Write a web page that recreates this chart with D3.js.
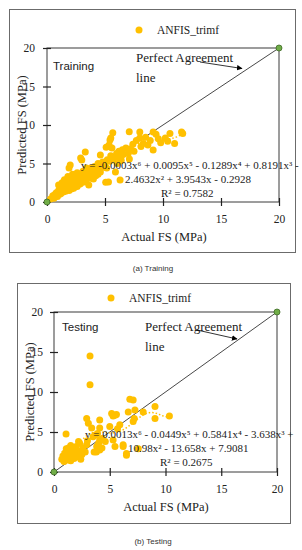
<!DOCTYPE html>
<html>
<head>
<meta charset="utf-8">
<script src="https://cdn.jsdelivr.net/npm/d3@7"></script>
<style>
  body { margin: 0; background: #fff; }
  svg { display: block; }
</style>
</head>
<body>
<svg id="chart" width="302" height="550"></svg>
<script>
// Training: actual FS vs predicted FS (MPa)
var trainActual = [0.3, 0.5, 0.6, 0.8, 0.9, 1.0, 1.0, 1.1, 1.2, 1.3, 1.4, 1.5, 1.5, 1.6, 1.7, 1.8, 1.8, 1.9,
  2.0, 2.0, 2.1, 2.2, 2.2, 2.3, 2.4, 2.5, 2.5, 2.6, 2.7, 2.8, 2.9, 3.0, 3.0, 3.1, 3.2, 3.3, 3.3, 3.4,
  3.5, 3.5, 3.6, 3.6, 3.7, 3.8, 3.9, 4.0, 4.1, 4.2, 4.3, 4.4, 4.5, 4.6, 4.6, 4.7, 4.8, 4.9, 5.0, 5.15,
  5.2, 5.3, 5.3, 5.4, 5.43, 5.5, 5.6, 5.67, 5.7, 5.9, 6.0, 6.0, 6.06, 6.2, 6.3, 6.4, 6.4, 6.5, 6.6, 6.8,
  7.0, 7.09, 7.1, 7.2, 7.4, 7.5, 7.7, 8.0, 8.0, 8.1, 8.3, 8.5, 8.7, 8.9, 9.15, 9.15, 9.4, 9.6, 9.8,
  10.2, 10.4, 10.6, 11.0, 11.6, 11.7, 1.2, 1.6, 2.1, 2.6, 2.9, 3.2, 3.8, 4.2, 0.7, 1.9, 2.4, 2.8, 1.4,
  3.4, 4.0, 4.4, 5.06, 5.1, 2.9, 1.9, 5.35, 5.5];
var trainPred = [0.4, 0.8, 0.5, 1.2, 0.7, 1.5, 2.2, 1.0, 1.8, 2.5, 1.3, 2.0, 2.9, 1.6, 2.3, 3.3, 1.9, 2.7,
  2.1, 4.8, 3.0, 2.4, 3.6, 1.8, 2.8, 3.2, 2.2, 3.8, 2.6, 3.0, 3.5, 2.8, 5.45, 4.0, 3.2, 6.5, 3.6, 2.9,
  4.2, 3.3, 2.2, 3.4, 3.8, 4.4, 3.5, 4.0, 4.6, 3.7, 4.2, 5.0, 4.4, 6.1, 3.9, 4.7, 5.2, 4.5, 5.0, 4.4,
  5.5, 7.2, 2.6, 5.3, 8.05, 6.0, 7.0, 9.0, 5.6, 3.9, 6.3, 5.8, 5.0, 6.6, 2.85, 5.9, 5.4, 6.8, 6.2, 7.0,
  6.3, 9.13, 5.6, 6.9, 7.5, 6.6, 8.0, 9.1, 8.3, 7.2, 7.6, 8.4, 7.4, 8.0, 9.1, 6.75, 8.8, 8.2, 7.7,
  8.3, 7.9, 8.9, 7.6, 9.1, 8.9, 1.1, 1.4, 1.7, 2.0, 2.4, 2.6, 3.1, 3.4, 1.0, 1.5, 2.0, 2.3, 1.8,
  4.4, 3.0, 3.6, 2.55, 7.1, 5.7, 4.4, 7.4, 8.3];

// Testing: actual FS vs predicted FS (MPa)
var testActual = [0.7, 0.8, 0.9, 1.0, 1.0, 1.08, 1.1, 1.2, 1.2, 1.3, 1.4, 1.4, 1.5, 1.5, 1.6, 1.7, 1.8, 1.9,
  2.0, 2.1, 2.2, 2.3, 2.4, 2.5, 2.6, 2.8, 2.93, 2.93, 3.0, 3.08, 3.23, 3.23, 3.38, 3.5, 3.6, 3.83, 3.9,
  4.1, 4.1, 4.1, 4.1, 4.3, 4.6, 5.0, 5.17, 5.3, 5.3, 5.47, 5.47, 5.6, 5.7, 5.9, 6.2, 6.2, 6.5, 6.5,
  6.66, 6.8, 7.1, 7.1, 7.2, 7.26, 7.56, 8.0, 9.06, 9.06, 10.35, 3.68, 4.3, 4.0, 3.8, 2.2];
var testPred = [1.6, 2.0, 1.3, 2.4, 1.8, 4.75, 2.9, 1.5, 2.2, 3.0, 1.9, 2.6, 1.4, 3.3, 2.1, 2.8, 1.7, 2.4,
  3.2, 1.9, 2.6, 3.6, 1.6, 2.2, 3.0, 2.5, 3.4, 6.7, 3.9, 6.1, 14.5, 10.9, 5.5, 4.4, 2.5, 3.2, 4.8,
  6.5, 5.5, 4.0, 2.75, 3.0, 3.8, 5.7, 7.3, 4.0, 7.0, 7.1, 3.2, 7.2, 5.4, 5.9, 3.4, 3.2, 2.3, 2.1,
  7.5, 9.1, 9.0, 6.3, 6.7, 7.75, 2.9, 7.5, 8.2, 6.7, 7.0, 4.6, 4.2, 3.6, 2.5, 3.8];

var axisTicks = [0, 5, 10, 15, 20];
var seriesName = 'ANFIS_trimf';
var trainEquation = ['y = -0.0003x\u2076 + 0.0095x\u2075 - 0.1289x\u2074 + 0.8191x\u00b3 -',
  '2.4632x\u00b2 + 3.9543x - 0.2928', 'R\u00b2 = 0.7582'];
var testEquation = ['y = 0.0013x\u2076 - 0.0449x\u2075 + 0.5841x\u2074 - 3.638x\u00b3 +',
  '10.98x\u00b2 - 13.658x + 7.9081', 'R\u00b2 = 0.2675'];

var gold = '#FFC000';
var serif = '"Liberation Serif", "Times New Roman", serif';
var sans = '"Liberation Sans", Arial, sans-serif';

var svg = d3.select('#chart');

svg.append('defs').append('marker')
    .attr('id', 'arrow')
    .attr('viewBox', '0 0 10 10')
    .attr('refX', 9).attr('refY', 5)
    .attr('markerWidth', 7).attr('markerHeight', 7)
    .attr('orient', 'auto')
    .append('path')
    .attr('d', 'M0,0 L10,5 L0,10 z')
    .attr('fill', '#000');

// least squares polynomial (like an Excel trendline), x scaled for stability
function polyFit(xs, ys, degree) {
    var lo = d3.min(xs), hi = d3.max(xs);
    var mid = (lo + hi) / 2, half = (hi - lo) / 2;
    var n = degree + 1;
    var A = [], b = [];
    for (var i = 0; i < n; i++) { A.push(new Array(n).fill(0)); b.push(0); }
    xs.forEach(function(x, k) {
        var u = (x - mid) / half;
        var pw = [];
        for (var i = 0; i < 2 * n; i++) pw.push(Math.pow(u, i));
        for (var r = 0; r < n; r++) {
            for (var c = 0; c < n; c++) A[r][c] += pw[r + c];
            b[r] += pw[r] * ys[k];
        }
    });
    for (var col = 0; col < n; col++) {
        var piv = col;
        for (var r = col + 1; r < n; r++) if (Math.abs(A[r][col]) > Math.abs(A[piv][col])) piv = r;
        var t = A[col]; A[col] = A[piv]; A[piv] = t;
        var tb = b[col]; b[col] = b[piv]; b[piv] = tb;
        for (var r = col + 1; r < n; r++) {
            var f = A[r][col] / A[col][col];
            for (var c = col; c < n; c++) A[r][c] -= f * A[col][c];
            b[r] -= f * b[col];
        }
    }
    var coef = new Array(n).fill(0);
    for (var r = n - 1; r >= 0; r--) {
        var s = b[r];
        for (var c = r + 1; c < n; c++) s -= A[r][c] * coef[c];
        coef[r] = s / A[r][r];
    }
    return function(x) {
        var u = (x - mid) / half, y = 0;
        for (var i = n - 1; i >= 0; i--) y = y * u + coef[i];
        return y;
    };
}

function drawPanel(cfg) {
    var g = svg.append('g');

    // outer frame
    g.append('rect')
        .attr('x', cfg.frame[0] + 0.5).attr('y', cfg.frame[1] + 0.5)
        .attr('width', cfg.frame[2] - cfg.frame[0]).attr('height', cfg.frame[3] - cfg.frame[1])
        .attr('fill', 'none').attr('stroke', '#6b6b6b').attr('stroke-width', 1);

    var x = d3.scaleLinear().domain([0, 20]).range([cfg.plot.l, cfg.plot.r]);
    var y = d3.scaleLinear().domain([0, 20]).range([cfg.plot.b, cfg.plot.t]);

    // plot area box
    g.append('rect')
        .attr('x', cfg.plot.l).attr('y', cfg.plot.t)
        .attr('width', cfg.plot.r - cfg.plot.l).attr('height', cfg.plot.b - cfg.plot.t)
        .attr('fill', 'none').attr('stroke', '#3a3a3a').attr('stroke-width', 1);

    var xAxis = d3.axisBottom(x).tickValues(axisTicks).tickSizeInner(4).tickSizeOuter(0).tickPadding(9);
    var yAxis = d3.axisLeft(y).tickValues(axisTicks).tickSizeInner(4).tickSizeOuter(0).tickPadding(cfg.yPad);

    var xg = g.append('g').attr('transform', 'translate(0,' + cfg.plot.b + ')').call(xAxis);
    var yg = g.append('g').attr('transform', 'translate(' + cfg.plot.l + ',0)').call(yAxis);
    [xg, yg].forEach(function(ax) {
        ax.select('.domain').remove();
        ax.selectAll('.tick line').attr('stroke', '#222').attr('stroke-width', 1.2);
        ax.selectAll('.tick text').attr('fill', '#222')
            .style('font-family', serif).style('font-size', '11.5px');
    });
    xg.selectAll('.tick line').attr('y1', -4);
    yg.selectAll('.tick line').attr('x1', 4).attr('x2', -4);

    // perfect agreement line
    g.append('line')
        .attr('x1', x(0)).attr('y1', y(0)).attr('x2', x(20)).attr('y2', y(20))
        .attr('stroke', '#333').attr('stroke-width', 0.9);

    // scatter
    var pts = cfg.xs.map(function(v, i) { return {a: v, p: cfg.ys[i]}; });
    g.selectAll('.dot').data(pts).enter()
        .append('circle')
        .attr('class', 'dot')
        .attr('cx', function(d) { return x(d.a); })
        .attr('cy', function(d) { return y(d.p); })
        .attr('r', 3.5)
        .attr('fill', gold);

    // polynomial trendline, dotted
    var fit = polyFit(cfg.xs, cfg.ys, 6);
    var lo = d3.min(cfg.xs), hi = d3.max(cfg.xs);
    var curve = d3.range(0, 201).map(function(i) { var xv = lo + (hi - lo) * i / 200; return [xv, fit(xv)]; });
    g.append('path')
        .datum(curve)
        .attr('d', d3.line().x(function(d) { return x(d[0]); }).y(function(d) { return y(d[1]); }))
        .attr('fill', 'none').attr('stroke', gold).attr('stroke-width', 1.5)
        .attr('stroke-dasharray', '1.5,2');

    // green end markers
    g.selectAll('.end').data([0, 20]).enter()
        .append('circle')
        .attr('cx', function(d) { return x(d); })
        .attr('cy', function(d) { return y(d); })
        .attr('r', 3)
        .attr('fill', '#70AD47').attr('stroke', '#3f6b27').attr('stroke-width', 0.8);

    // legend
    g.append('circle').attr('cx', cfg.legend[0]).attr('cy', cfg.legend[1]).attr('r', 3.5).attr('fill', gold);
    g.append('text').attr('x', cfg.legend[0] + 18).attr('y', cfg.legend[1]).attr('dy', '0.35em')
        .style('font-family', serif).style('font-size', '11.5px').attr('fill', '#222')
        .text(seriesName);

    // panel label
    g.append('text').attr('x', cfg.label[0]).attr('y', cfg.label[1]).attr('dy', '0.35em')
        .style('font-family', sans).style('font-size', '11.5px').attr('fill', '#222')
        .text(cfg.labelText);

    // annotation
    g.append('text').attr('x', cfg.note[0]).attr('y', cfg.note[1]).attr('dy', '0.35em')
        .style('font-family', serif).style('font-size', '13px').attr('fill', '#222')
        .text('Perfect Agreement');
    g.append('text').attr('x', cfg.note[0]).attr('y', cfg.note[1] + 20).attr('dy', '0.35em')
        .style('font-family', serif).style('font-size', '13px').attr('fill', '#222')
        .text('line');
    g.append('line')
        .attr('x1', cfg.arrow[0]).attr('y1', cfg.arrow[1]).attr('x2', cfg.arrow[2]).attr('y2', cfg.arrow[3])
        .attr('stroke', '#000').attr('stroke-width', 0.8).attr('marker-end', 'url(#arrow)');

    // trendline equation
    cfg.eq.forEach(function(line, i) {
        g.append('text').attr('x', cfg.eqX[i]).attr('y', cfg.eqY + i * 14).attr('dy', '0.35em')
            .style('font-family', serif).style('font-size', '11px').attr('fill', '#222')
            .text(line);
    });

    // axis titles
    g.append('text').attr('x', cfg.xTitle[0]).attr('y', cfg.xTitle[1]).attr('dy', '0.35em')
        .attr('text-anchor', 'middle')
        .style('font-family', serif).style('font-size', '12.5px').attr('fill', '#222')
        .text('Actual FS (MPa)');
    g.append('text')
        .attr('transform', 'translate(' + cfg.yTitleX + ',' + (cfg.plot.t + cfg.plot.b) / 2 + ') rotate(-90)')
        .attr('dy', '0.35em').attr('text-anchor', 'middle')
        .style('font-family', serif).style('font-size', '12.5px').attr('fill', '#222')
        .text('Predicted FS (MPa)');

    // caption
    g.append('text').attr('x', cfg.caption[0]).attr('y', cfg.caption[1]).attr('dy', '0.35em')
        .attr('text-anchor', 'middle')
        .style('font-family', sans).style('font-size', '8px').attr('fill', '#333')
        .text(cfg.captionText);
}

drawPanel({
    frame: [9, 9, 295, 252],
    plot: {l: 47, r: 279, t: 48, b: 202},
    yPad: 8,
    xs: trainActual, ys: trainPred,
    legend: [139, 30],
    label: [53, 66], labelText: 'Training',
    note: [136, 57],
    arrow: [200, 62, 242, 68.5],
    eq: trainEquation, eqX: [81, 125, 161], eqY: 165,
    xTitle: [164, 237], yTitleX: 22,
    caption: [153, 268], captionText: '(a) Training'
});

drawPanel({
    frame: [17, 283, 290, 523],
    plot: {l: 54, r: 277, t: 312, b: 472},
    yPad: 7,
    xs: testActual, ys: testPred,
    legend: [111, 298],
    label: [62, 327], labelText: 'Testing',
    note: [145, 326],
    arrow: [197, 330, 237, 339],
    eq: testEquation, eqX: [85, 128, 160], eqY: 434,
    xTitle: [166, 507], yTitleX: 30,
    caption: [153, 541], captionText: '(b) Testing'
});
</script>
</body>
</html>
